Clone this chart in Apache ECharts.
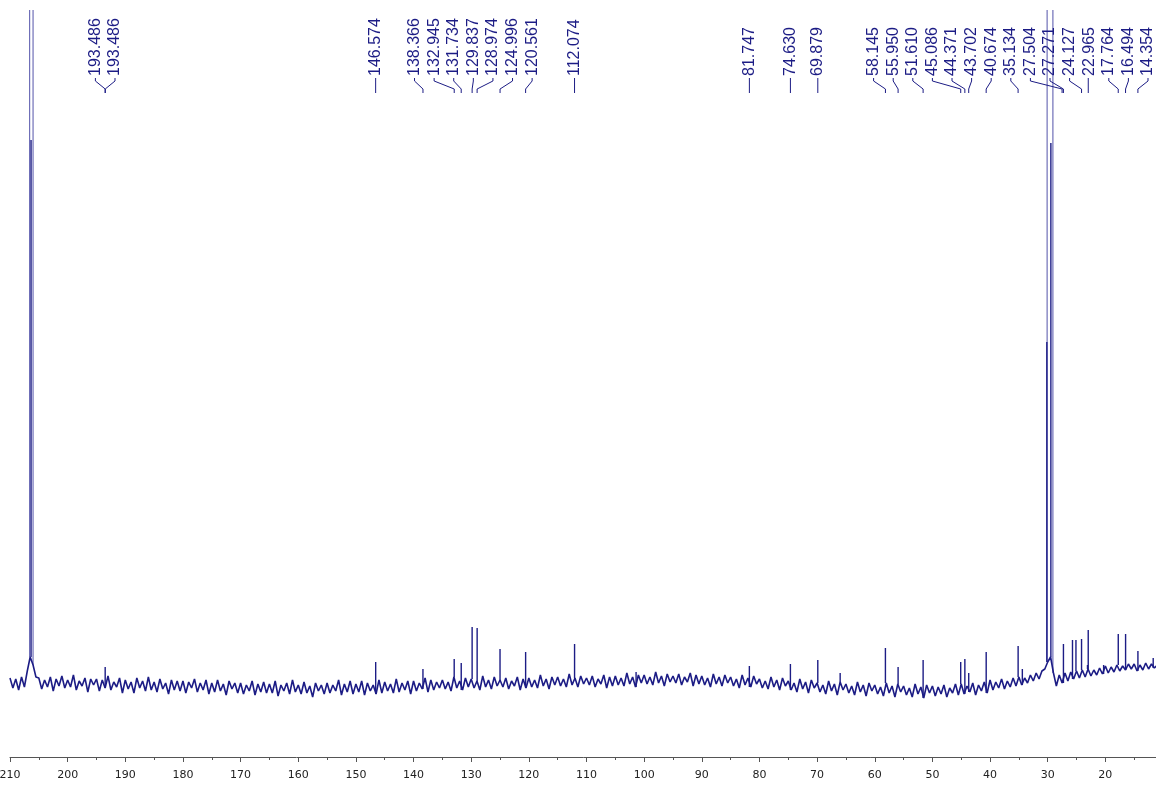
<!DOCTYPE html>
<html>
<head>
<meta charset="utf-8">
<script src="https://cdn.jsdelivr.net/npm/echarts@6/dist/echarts.min.js"></script>
<style>
  html, body { margin: 0; padding: 0; background: #fff; }
  #chart { width: 1156px; height: 785px; }
</style>
</head>
<body>
<div id="chart"></div>
<script>
// 13C spectrum: noisy baseline sampled every 0.5 ppm from 210 ppm downwards
const baseStart = 210;
const baseStep = 0.5;
const baseline = [
  79, 69, 78, 67, 80, 70, 86, 100, 92, 80,
  79, 68, 77, 70, 80, 66, 78, 71, 81, 69,
  77, 70, 82, 67, 76, 71, 79, 65, 78, 72,
  78, 66, 77, 69, 81, 67, 75, 70, 79, 64,
  77, 68, 75, 64, 79, 69, 76, 66, 80, 67,
  75, 65, 78, 68, 74, 63, 77, 67, 76, 66,
  76, 64, 75, 69, 78, 65, 74, 67, 77, 63,
  74, 65, 77, 66, 73, 62, 76, 68, 74, 64,
  74, 63, 72, 66, 76, 62, 73, 65, 75, 64,
  73, 64, 76, 61, 72, 66, 74, 63, 77, 65,
  72, 63, 75, 64, 71, 60, 74, 66, 72, 63,
  74, 64, 72, 66, 77, 62, 73, 65, 76, 63,
  73, 65, 76, 62, 74, 66, 72, 63, 77, 64,
  75, 66, 73, 64, 78, 65, 74, 67, 76, 63,
  76, 66, 74, 68, 79, 65, 77, 67, 75, 69,
  77, 68, 75, 66, 80, 69, 76, 67, 79, 70,
  78, 69, 76, 67, 81, 70, 77, 68, 80, 71,
  77, 70, 79, 68, 76, 71, 80, 67, 78, 69,
  79, 70, 77, 69, 82, 71, 78, 68, 80, 72,
  80, 71, 78, 70, 83, 72, 79, 70, 81, 73,
  79, 72, 81, 70, 78, 73, 82, 69, 80, 71,
  81, 72, 79, 71, 84, 73, 80, 70, 82, 74,
  82, 73, 80, 72, 85, 74, 81, 71, 83, 75,
  81, 74, 83, 72, 80, 75, 84, 71, 82, 73,
  81, 72, 79, 70, 83, 73, 80, 71, 82, 74,
  80, 71, 78, 69, 82, 72, 79, 70, 81, 73,
  78, 69, 76, 68, 80, 70, 77, 67, 79, 71,
  76, 67, 74, 65, 78, 68, 75, 64, 77, 69,
  74, 65, 72, 63, 76, 66, 73, 62, 75, 67,
  73, 64, 71, 62, 75, 65, 72, 61, 74, 66,
  72, 63, 70, 61, 74, 64, 71, 60, 73, 65,
  71, 62, 69, 60, 73, 63, 70, 59, 72, 64,
  71, 61, 70, 63, 72, 60, 69, 64, 73, 62,
  73, 63, 71, 65, 74, 62, 72, 66, 75, 64,
  77, 67, 75, 69, 78, 68, 76, 70, 79, 71,
  80, 72, 79, 74, 82, 76, 84, 78, 86, 88,
  95, 100, 84, 71, 82, 74, 84, 76, 85, 78,
  86, 79, 87, 80, 88, 81, 87, 82, 89, 83,
  91, 84, 90, 85, 92, 86, 91, 87, 93, 88,
  93, 86, 92, 87, 94, 88, 93, 89, 92
];

// sharp lines (ppm, height above the axis)
const peakPpm = [
  206.35, 193.49, 146.57, 138.37, 132.95, 131.73, 129.84, 128.97, 125.0, 120.56,
  112.07, 101.4, 81.75, 74.63, 69.88, 66.0, 58.15, 55.95, 51.61, 45.09,
  44.37, 43.7, 40.67, 35.13, 34.4, 30.15, 29.45, 27.27, 25.7, 25.1,
  24.13, 23.1, 22.97, 20.3, 17.76, 16.49, 14.35, 11.7
];
const peakHeight = [
  617, 90, 95, 88, 98, 94, 130, 129, 108, 105,
  113, 85, 91, 93, 97, 84, 109, 90, 97, 95,
  98, 84, 105, 111, 88, 415, 614, 113, 117, 117,
  118, 92, 127, 92, 123, 123, 106, 99
];

// solvent lines, far off scale
const solventPpm = [206.6, 206.0, 30.1, 29.1];
const solventHeight = [2000, 2000, 2000, 2000];

// peak pick labels
const shiftLabels = [
  "193.486", "193.486", "146.574", "138.366", "132.945", "131.734", "129.837",
  "128.974", "124.996", "120.561", "112.074", "81.747", "74.630", "69.879",
  "58.145", "55.950", "51.610", "45.086", "44.371", "43.702", "40.674",
  "35.134", "27.504", "27.271", "24.127", "22.965", "17.764", "16.494", "14.354"
];

const NAVY = "#1c1c85";

function footOf(ppm) {
  const i = Math.round((baseStart - ppm) / baseStep);
  return baseline[Math.max(0, Math.min(baseline.length - 1, i))];
}

// spread overlapping labels into evenly spaced groups centred on their peaks
function spreadLabels(xs, gap, minX, maxX) {
  let groups = xs.map((x, i) => ({ from: i, to: i }));
  const place = (g) => {
    const n = g.to - g.from + 1;
    let c = 0;
    for (let i = g.from; i <= g.to; i++) c += xs[i];
    c /= n;
    let first = c - (n - 1) / 2 * gap;
    if (first < minX) first = minX;
    if (first + (n - 1) * gap > maxX) first = maxX - (n - 1) * gap;
    g.first = first;
    g.last = first + (n - 1) * gap;
  };
  groups.forEach(place);
  let merged = true;
  while (merged) {
    merged = false;
    for (let k = 0; k < groups.length - 1; k++) {
      if (groups[k + 1].first - groups[k].last < gap) {
        const g = { from: groups[k].from, to: groups[k + 1].to };
        place(g);
        groups.splice(k, 2, g);
        merged = true;
        break;
      }
    }
  }
  const out = [];
  groups.forEach((g) => {
    for (let i = g.from; i <= g.to; i++) out.push(g.first + (i - g.from) * gap);
  });
  return out;
}

const chart = echarts.init(document.getElementById("chart"));

const option = {
  backgroundColor: "#ffffff",
  animation: false,
  grid: { left: 10, top: 10, width: 1153, height: 747, outerBoundsMode: "none", containLabel: false },
  xAxis: {
    type: "value",
    inverse: true,
    min: 10,
    max: 210,
    interval: 10,
    splitLine: { show: false },
    axisLine: { lineStyle: { color: "#555", width: 1 } },
    axisTick: { length: 5, lineStyle: { color: "#555" } },
    minorTick: { show: true, splitNumber: 2, length: 3, lineStyle: { color: "#555" } },
    axisLabel: {
      margin: 13,
      color: "#222",
      fontFamily: "DejaVu Sans",
      fontSize: 11,
    },
  },
  yAxis: {
    type: "value",
    min: 0,
    max: 747,
    show: false,
  },
  series: [
    {
      type: "custom",
      name: "solvent",
      clip: true,
      data: solventPpm.map((p, i) => [p, footOf(p), solventHeight[i]]),
      renderItem: (params, api) => {
        const a = api.coord([api.value(0), api.value(1)]);
        const b = api.coord([api.value(0), api.value(2)]);
        return {
          type: "line",
          shape: { x1: a[0], y1: a[1], x2: b[0], y2: b[1] },
          style: { stroke: "#6f6fb8", lineWidth: 1.2 },
        };
      },
    },
    {
      type: "line",
      name: "spectrum",
      showSymbol: false,
      clip: true,
      data: baseline.map((v, i) => [baseStart - i * baseStep, v]),
      lineStyle: { color: NAVY, width: 1.6 },
    },
    {
      type: "custom",
      name: "peaks",
      clip: true,
      data: peakPpm.map((p, i) => [p, footOf(p), peakHeight[i]]),
      renderItem: (params, api) => {
        const a = api.coord([api.value(0), api.value(1)]);
        const b = api.coord([api.value(0), api.value(2)]);
        return {
          type: "line",
          shape: { x1: a[0], y1: a[1], x2: b[0], y2: b[1] },
          style: { stroke: NAVY, lineWidth: 1.4 },
        };
      },
    },
    {
      type: "custom",
      name: "labels",
      data: shiftLabels.map((s) => [parseFloat(s), 0]),
      renderItem: (params, api) => {
        const ctx = params.context;
        if (!ctx.pos) {
          const xs = shiftLabels.map((s) => api.coord([parseFloat(s), 0])[0]);
          ctx.xs = xs;
          ctx.pos = spreadLabels(xs, 19.6, 8, api.getWidth() - 8);
        }
        const i = params.dataIndex;
        const px = ctx.xs[i];
        const lx = ctx.pos[i];
        const pts = Math.abs(lx - px) < 1
          ? [[px, 78], [px, 93]]
          : [[lx, 78], [lx, 81], [px, 89], [px, 93]];
        return {
          type: "group",
          children: [
            {
              type: "text",
              x: lx,
              y: 76,
              rotation: Math.PI / 2,
              style: {
                text: shiftLabels[i],
                fill: NAVY,
                fontFamily: "Liberation Sans",
                fontSize: 16,
                align: "left",
                verticalAlign: "middle",
              },
            },
            {
              type: "polyline",
              shape: { points: pts },
              style: { stroke: NAVY, fill: null, lineWidth: 1 },
            },
          ],
        };
      },
    },
  ],
};

chart.setOption(option);
window.addEventListener("resize", () => chart.resize());
</script>
</body>
</html>
